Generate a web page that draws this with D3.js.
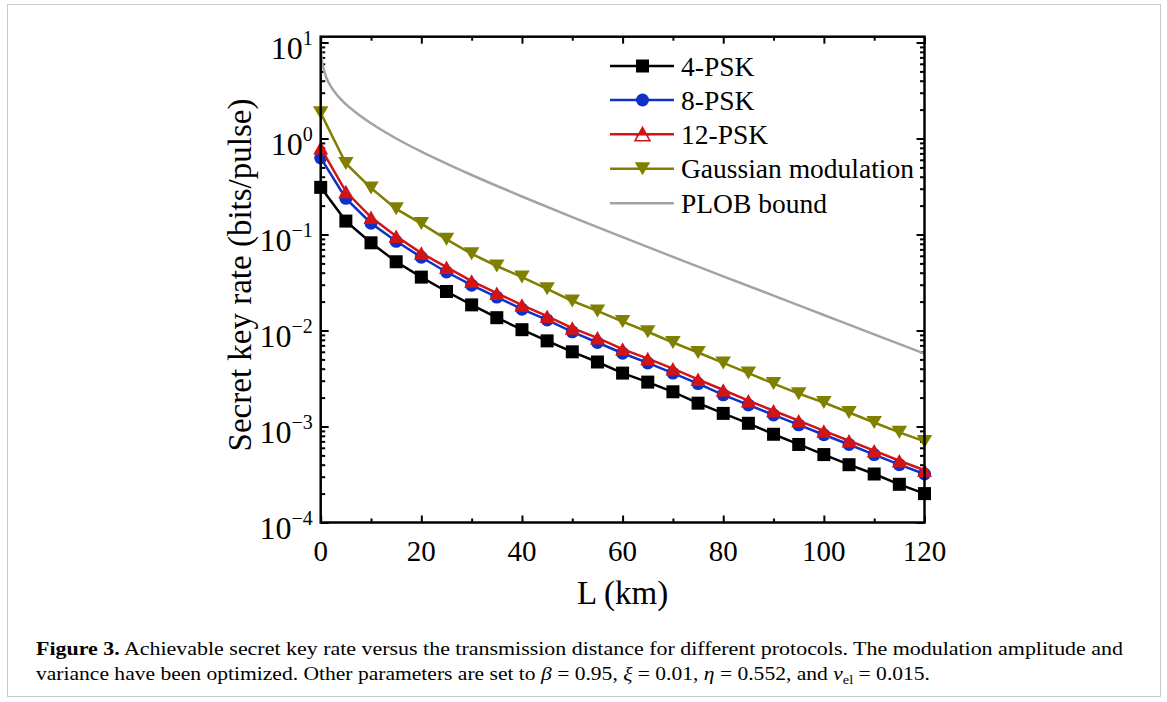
<!DOCTYPE html>
<html><head><meta charset="utf-8">
<script src="https://cdn.jsdelivr.net/npm/d3@7"></script>
<style>body{margin:0;background:#fff} svg{display:block}</style>
</head><body>
<svg id="chart" width="1167" height="702"></svg>
<script>
// ---------- data ----------
const distances = [0,5,10,15,20,25,30,35,40,45,50,55,60,65,70,75,80,85,90,95,100,105,110,115,120];
const psk4 = [0.31,0.138,0.082,0.052,0.036,0.0255,0.0185,0.0136,0.0102,0.0078,0.006,0.0047,0.0036,0.0029,0.0023,0.00175,0.00137,0.00108,0.00083,0.00065,0.00051,0.0004,0.00032,0.00025,0.0002];
const psk8 = [0.63,0.238,0.131,0.085,0.058,0.0407,0.0297,0.0223,0.0167,0.0129,0.0097,0.0075,0.0058,0.0046,0.0036,0.0028,0.00214,0.00168,0.00132,0.00104,0.00082,0.00065,0.00051,0.0004,0.00032];
const psk12 = [0.8,0.28,0.151,0.096,0.064,0.0457,0.0327,0.0245,0.0184,0.0141,0.0106,0.0084,0.0064,0.0051,0.004,0.0031,0.0024,0.00186,0.00146,0.00115,0.0009,0.00071,0.00056,0.00044,0.00035];
const gaussian = [1.85,0.55,0.305,0.185,0.13,0.089,0.063,0.047,0.036,0.0272,0.0203,0.016,0.0124,0.0097,0.0075,0.0059,0.0046,0.0036,0.0028,0.0022,0.00178,0.0014,0.0011,0.00087,0.0007];
const plobDistances = [0.008,0.02,0.05,0.1,0.2,0.5,1,2,3,5,7.5,10,15,20,25,30,40,50,60,70,80,90,100,110,120];
const plobValues = [11.4,10.1,8.76,7.76,6.78,5.48,4.47,3.5,2.95,2.28,1.78,1.44,1.0,0.73,0.548,0.417,0.249,0.152,0.094,0.0586,0.0367,0.0231,0.0145,0.0091,0.00575];
const seriesNames = ["4-PSK","8-PSK","12-PSK","Gaussian modulation","PLOB bound"];
const xTickValues = [0,20,40,60,80,100,120];
const xMinorTicks = [10,30,50,70,90,110];
const yTickExponents = [1,0,-1,-2,-3,-4];
const xTitle = "L (km)";
const yTitle = "Secret key rate (bits/pulse)";

// ---------- setup ----------
const svg = d3.select("#chart");
const FONT = "'Liberation Serif','Times New Roman',serif";
const pLeft = 320.7, pRight = 924.5, pTop = 36.7, pBottom = 522.5;
const x = d3.scaleLinear().domain([0,120]).range([pLeft,pRight]);
const y = d3.scaleLog().domain([1e-4, 11.5]).range([pBottom, pTop]);

// figure border
svg.append("rect").attr("x",7.5).attr("y",4.5).attr("width",1153).attr("height",692)
  .attr("fill","none").attr("stroke","#c9c9c9").attr("stroke-width",1);

// ---------- ticks ----------
const yMajor = yTickExponents.map(e => Math.pow(10,e));
const yMinor = [];
for (let e=-4;e<=0;e++) for (let m=2;m<=9;m++) yMinor.push(m*Math.pow(10,e));

function addAxis(axis, tx, ty){
  const g = svg.append("g").attr("transform",`translate(${tx},${ty})`).call(axis);
  g.select(".domain").remove();
  g.selectAll("text").remove();
  g.selectAll("line").attr("stroke","#000").attr("stroke-width",2);
  return g;
}
addAxis(d3.axisBottom(x).tickValues(xTickValues).tickSize(-7), 0, pBottom);
addAxis(d3.axisBottom(x).tickValues(xMinorTicks).tickSize(-4), 0, pBottom);
addAxis(d3.axisTop(x).tickValues(xTickValues).tickSize(-7), 0, pTop);
addAxis(d3.axisTop(x).tickValues(xMinorTicks).tickSize(-4), 0, pTop);
addAxis(d3.axisLeft(y).tickValues(yMajor).tickSize(-8), pLeft, 0);
addAxis(d3.axisLeft(y).tickValues(yMinor).tickSize(-4.5), pLeft, 0);
addAxis(d3.axisRight(y).tickValues(yMajor).tickSize(-8), pRight, 0);
addAxis(d3.axisRight(y).tickValues(yMinor).tickSize(-4.5), pRight, 0);

// tick labels
svg.append("g").selectAll("text").data(xTickValues).join("text")
  .attr("x", d => x(d)).attr("y", pBottom + 38)
  .attr("text-anchor","middle").attr("font-family",FONT).attr("font-size",29)
  .text(d => d);
const yl = svg.append("g").selectAll("text").data(yTickExponents).join("text")
  .attr("x", pLeft - 8).attr("y", d => y(Math.pow(10,d)) + 16)
  .attr("text-anchor","end").attr("font-family",FONT).attr("font-size",32);
yl.append("tspan").text("10");
yl.append("tspan").attr("font-size",20).attr("dy",-14).text(d => d < 0 ? "\u2212" + (-d) : d);

// titles
svg.append("text").attr("x",(pLeft+pRight)/2).attr("y",604).attr("text-anchor","middle")
  .attr("font-family",FONT).attr("font-size",33).text(xTitle);
svg.append("text").attr("transform",`translate(251,${275}) rotate(-90)`).attr("text-anchor","middle")
  .attr("font-family",FONT).attr("font-size",33).text(yTitle);

// ---------- plot ----------
svg.append("clipPath").attr("id","clip").append("rect")
  .attr("x",pLeft).attr("y",pTop).attr("width",pRight-pLeft).attr("height",pBottom-pTop);
const plot = svg.append("g").attr("clip-path","url(#clip)");

const line = d3.line().x(d => x(d[0])).y(d => y(d[1]));
const smooth = d3.line().x(d => x(d[0])).y(d => y(d[1])).curve(d3.curveMonotoneX);

function square(g, s, color){ return g.append("rect").attr("x",-s/2).attr("y",-s/2).attr("width",s).attr("height",s).attr("fill",color); }
function circle(g, r, color){ return g.append("circle").attr("r",r).attr("fill",color); }
function triUp(g, w, h, color){ return g.append("path").attr("d",`M0,${-h/2}L${w/2},${h/2}L${-w/2},${h/2}Z`).attr("fill",color); }
function triDown(g, w, h, color){ return g.append("path").attr("d",`M0,${h/2}L${w/2},${-h/2}L${-w/2},${-h/2}Z`).attr("fill",color); }

const series = [
  {vals: psk4, color:"#000000", marker:(g)=>square(g,13,"#000")},
  {vals: psk8, color:"#1030c8", marker:(g)=>circle(g,6.5,"#1030c8")},
  {vals: psk12, color:"#d21414", marker:(g)=>triUp(g,15,13.5,"#d21414")},
  {vals: gaussian, color:"#808000", marker:(g)=>triDown(g,15.5,13,"#808000")}
];
series.forEach(s => {
  const pts = distances.map((d,i) => [d, s.vals[i]]);
  const g = svg.append("g");
  g.append("path").attr("d", line(pts)).attr("fill","none").attr("stroke",s.color).attr("stroke-width",2.5);
  pts.forEach(p => { const m = g.append("g").attr("transform",`translate(${x(p[0])},${y(p[1])})`); s.marker(m); });
});
const plobPts = plobDistances.map((d,i) => [d, plobValues[i]]);
plot.append("path").attr("d", smooth(plobPts)).attr("fill","none").attr("stroke","#a3a3a3").attr("stroke-width",2.5);

// frame
svg.append("rect").attr("x",pLeft).attr("y",pTop).attr("width",pRight-pLeft).attr("height",pBottom-pTop)
  .attr("fill","none").attr("stroke","#000").attr("stroke-width",2.5);

// ---------- legend ----------
const legendRows = [66,100,134.3,168.7,203.2];
const legendColors = ["#000000","#1030c8","#d21414","#808000","#a3a3a3"];
legendRows.forEach((ry,i) => {
  const g = svg.append("g");
  g.append("line").attr("x1",610).attr("x2",674).attr("y1",ry).attr("y2",ry)
    .attr("stroke",legendColors[i]).attr("stroke-width",2.5);
  const m = g.append("g").attr("transform",`translate(642.5,${ry})`);
  if (i===0) square(m,13,"#000");
  if (i===1) circle(m,6.5,"#1030c8");
  if (i===2) {
    m.append("path").attr("d","M0,-7L7.5,6.5L-7.5,6.5Z").attr("fill","#fff").attr("stroke","#d21414").attr("stroke-width",1.5);
    m.append("path").attr("d","M0,-7L4.2,0.5L-4.2,0.5Z").attr("fill","#d21414");
    m.append("line").attr("x1",-7).attr("x2",7).attr("y1",0).attr("y2",0).attr("stroke","#d21414").attr("stroke-width",2.5);
  }
  if (i===3) triDown(m,15.5,13,"#808000");
  g.append("text").attr("x",681).attr("y",ry+9.5).attr("font-family",FONT).attr("font-size",27.5).text(seriesNames[i]);
});

// ---------- caption ----------
const c1 = svg.append("text").attr("x",36).attr("y",655).attr("font-family",FONT).attr("font-size",19.5)
  .attr("textLength",1087).attr("lengthAdjust","spacingAndGlyphs");
c1.append("tspan").attr("font-weight","bold").text("Figure 3.");
c1.append("tspan").text(" Achievable secret key rate versus the transmission distance for different protocols. The modulation amplitude and");
const c2 = svg.append("text").attr("x",36).attr("y",680).attr("font-family",FONT).attr("font-size",19.5)
  .attr("textLength",894).attr("lengthAdjust","spacingAndGlyphs");
c2.append("tspan").text("variance have been optimized. Other parameters are set to ");
c2.append("tspan").attr("font-style","italic").text("\u03b2");
c2.append("tspan").text(" = 0.95, ");
c2.append("tspan").attr("font-style","italic").text("\u03be");
c2.append("tspan").text(" = 0.01, ");
c2.append("tspan").attr("font-style","italic").text("\u03b7");
c2.append("tspan").text(" = 0.552, and ");
c2.append("tspan").attr("font-style","italic").text("\u03bd");
c2.append("tspan").attr("font-size",13).attr("dy",4).text("el");
c2.append("tspan").attr("dy",-4).text(" = 0.015.");
</script>
</body></html>
